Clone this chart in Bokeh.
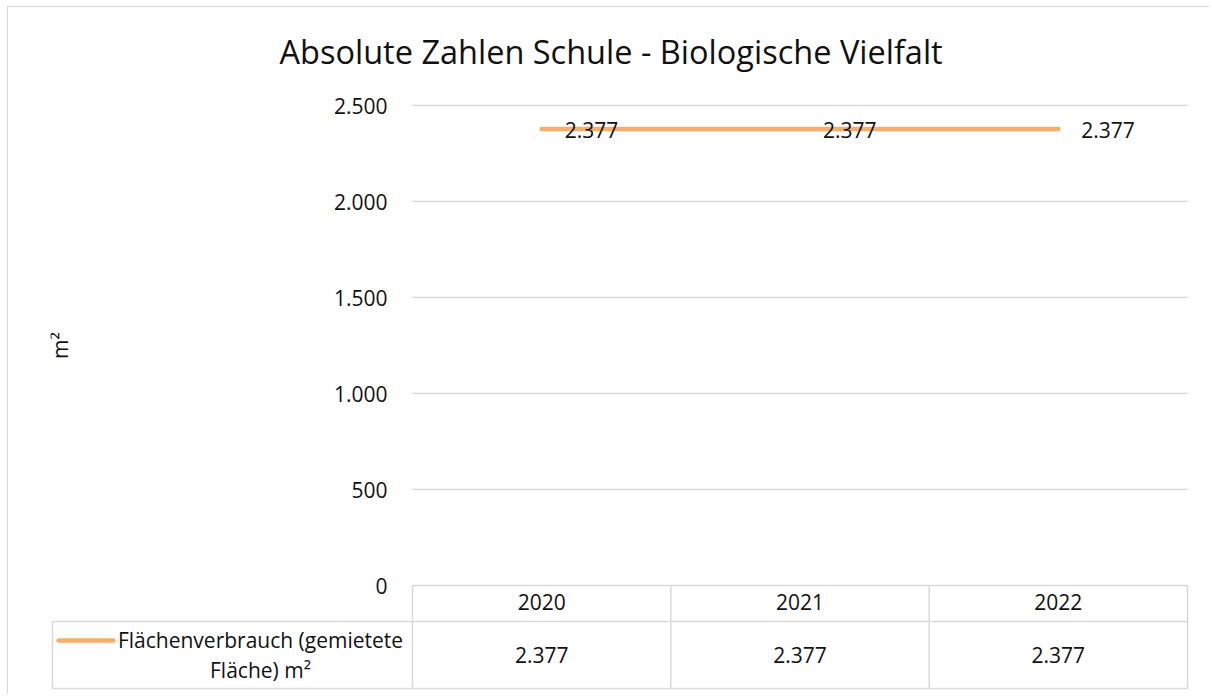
from bokeh.plotting import figure
from bokeh.models import Range1d, FixedTicker, CustomJSTickFormatter, ColumnDataSource
from bokeh.core.properties import value
from bokeh.embed import file_html
from bokeh.resources import INLINE

# ---- data ----
years = ["2020", "2021", "2022"]
area_m2 = [2377, 2377, 2377]
series_name = "Flächenverbrauch (gemietete\nFläche) m²"
y_ticks = [0, 500, 1000, 1500, 2000, 2500]
title_text = "Absolute Zahlen Schule - Biologische Vielfalt"
y_label = "m²"

FONT = "Open Sans"
GRID = "#d9d9d9"
ORANGE = "#F5AE6E"
TXT = "#111111"
FS = "21px"

def de(v):
    return f"{v:,}".replace(",", ".")

px_per_unit_y = 96 / 500.0
px_per_col = 775 / 3.0
x_left = -362.0 / px_per_col
x_right = 3 + 5.0 / px_per_col
y_bottom = -110.0 / px_per_unit_y
y_top = 2500 + 25.0 / px_per_unit_y

p = figure(width=1202, height=688, output_backend="svg", toolbar_location=None,
           x_range=Range1d(x_left, x_right), y_range=Range1d(y_bottom, y_top),
           x_axis_type=None, min_border_left=42, min_border_right=18,
           min_border_top=73, min_border_bottom=0, title=title_text)
p.outline_line_color = None
p.background_fill_color = "white"
p.border_fill_color = "white"
p.styles = {"border-left": "1px solid #d9d9d9", "border-top": "1px solid #d9d9d9",
            "margin-left": "7px", "margin-top": "6px"}

p.title.text_font = FONT
p.title.text_font_size = "32.5px"
p.title.text_font_style = "normal"
p.title.text_color = TXT
p.title.align = "left"
p.title.offset = 229
p.title.standoff = 14

# y axis
ax = p.yaxis[0]
ax.fixed_location = 0
ax.ticker = FixedTicker(ticks=y_ticks)
ax.bounds = (0, 2500)
ax.formatter = CustomJSTickFormatter(code="return tick.toFixed(0).replace(/\\B(?=(\\d{3})+(?!\\d))/g, '.');")
ax.axis_line_color = None
ax.major_tick_line_color = None
ax.minor_tick_line_color = None
ax.major_label_text_font = FONT
ax.major_label_text_font_size = FS
ax.major_label_text_color = TXT
ax.major_label_standoff = 19
ax.axis_label = y_label
ax.axis_label_text_font = FONT
ax.axis_label_text_font_size = FS
ax.axis_label_text_font_style = "normal"
ax.axis_label_text_color = TXT
ax.axis_label_standoff = 257
p.grid.visible = False

# grid lines (from tick values)
n = len(years)
p.segment(x0=[0] * len(y_ticks), y0=y_ticks, x1=[n] * len(y_ticks), y1=y_ticks,
          line_color=GRID, line_width=1.3)

# data table grid
row1 = -36.0 / px_per_unit_y
row2 = -103.0 / px_per_unit_y
tl = -360.0 / px_per_col
p.segment(x0=[tl, tl], y0=[row1, row2], x1=[n, n], y1=[row1, row2],
          line_color=GRID, line_width=1.5)
vx = [tl] + list(range(n + 1))
vy0 = [row1] + [0] * (n + 1)
p.segment(x0=vx, y0=vy0, x1=vx, y1=[row2] * len(vx), line_color=GRID, line_width=1.5)

centers = [i + 0.5 for i in range(n)]
src = ColumnDataSource(dict(x=centers, y=area_m2, lab=[de(v) for v in area_m2], yr=years,
                            hy=[row1 / 2 + 1.5 / px_per_unit_y] * n, vy=[(row1 + row2) / 2] * n))

# line series
p.line("x", "y", source=src, line_color=ORANGE, line_width=4.5, line_cap="round")
# data labels
p.text("x", "y", text="lab", source=src, x_offset=23, y_offset=1, text_align="left",
       text_baseline="middle", text_font=value(FONT), text_font_size=FS, text_color=TXT)
# table header and values
p.text("x", "hy", text="yr", source=src, text_align="center", text_baseline="middle",
       text_font=value(FONT), text_font_size=FS, text_color=TXT)
p.text("x", "vy", text="lab", source=src, text_align="center", text_baseline="middle",
       text_font=value(FONT), text_font_size=FS, text_color=TXT)

# legend key in table
lx0 = tl + 6 / px_per_col
key_y = row1 - 19 / px_per_unit_y
p.line([lx0, lx0 + 55 / px_per_col], [key_y, key_y], line_color=ORANGE, line_width=4.5, line_cap="round")
p.text([tl + 208 / px_per_col], [(row1 + row2) / 2], text=[series_name], text_align="center",
       text_baseline="middle", text_font=value(FONT), text_font_size=FS, text_color=TXT,
       text_line_height=1.08)

open("out.html", "w").write(file_html(p, INLINE))
